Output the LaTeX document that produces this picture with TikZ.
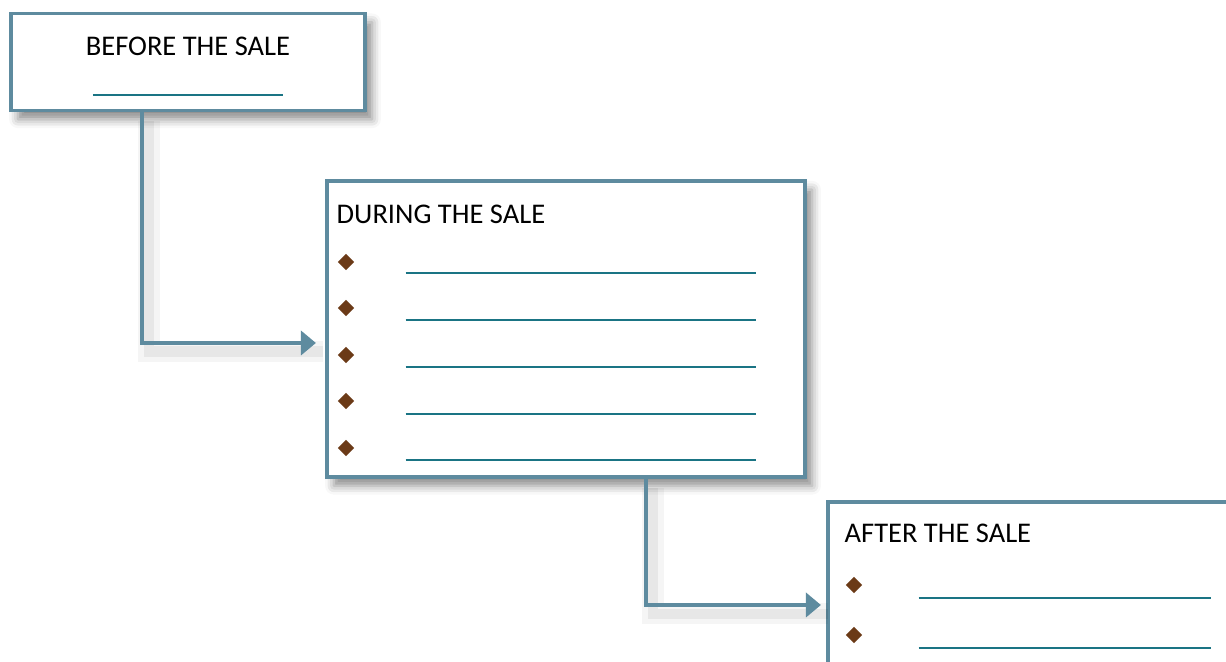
\documentclass[tikz,border=0pt]{standalone}
\usepackage{fontspec}
\setmainfont{Carlito}
\usepackage{xcolor}
\usetikzlibrary{shapes.geometric,arrows.meta,calc,shadows.blur}

\definecolor{frameblue}{HTML}{5E8B9F}
\definecolor{blankteal}{HTML}{1A7484}
\definecolor{bulletbrown}{HTML}{6B3A17}

\begin{document}
\begin{tikzpicture}[
    x=0.01cm, y=-0.01cm,
    stage/.style={rectangle, draw=frameblue, line width=1.1pt, fill=white, blur shadow={shadow xshift=2pt, shadow yshift=-2.5pt, shadow blur radius=2.5pt, shadow opacity=45}},
    heading/.style={anchor=base west, inner sep=0pt, font=\fontsize{8.1}{9}\selectfont},
    bullet/.style={diamond, fill=bulletbrown, inner sep=0pt, minimum size=0.17cm},
    blank/.style={anchor=west, inner sep=0pt, text=blankteal},
    link/.style={draw=frameblue, line width=1.1pt, -{Triangle[length=0.15cm, width=0.24cm]},
        preaction={draw=black, draw opacity=0.04, line width=6pt, -, transform canvas={shift={(2pt,-2.5pt)}}},
        preaction={draw=black, draw opacity=0.06, line width=3pt, -, transform canvas={shift={(2pt,-2.5pt)}}}}
]
    \useasboundingbox (0,0) rectangle (1226,662);
    \clip (0,0) rectangle (1226,662);

    % Before
    \node [stage, minimum width=3.54cm, minimum height=0.97cm] (before) at (188,62) {};
    \node [heading, anchor=base] (beforetitle) at (188,56) {BEFORE THE SALE};
    \node [blank, anchor=center] (beforeblank) at (188,95) {\rule{1.9cm}{0.65pt}};

    % During
    \node [stage, minimum width=4.78cm, minimum height=2.96cm] (during) at (566,329) {};
    \node [heading] (duringtitle) at (336,224) {DURING THE SALE};
    \node [bullet] (d1) at (346,262) {};
    \node [bullet] (d2) at (346,308) {};
    \node [bullet] (d3) at (346,355) {};
    \node [bullet] (d4) at (346,401) {};
    \node [bullet] (d5) at (346,448) {};
    \node [blank] (dl1) at (405,273) {\rule{3.5cm}{0.65pt}};
    \node [blank] (dl2) at (405,320) {\rule{3.5cm}{0.65pt}};
    \node [blank] (dl3) at (405,367) {\rule{3.5cm}{0.65pt}};
    \node [blank] (dl4) at (405,414) {\rule{3.5cm}{0.65pt}};
    \node [blank] (dl5) at (405,460) {\rule{3.5cm}{0.65pt}};

    % After
    \node [stage, minimum width=4.2cm, minimum height=2.2cm] (after) at (1038,612) {};
    \node [heading] (aftertitle) at (844,543) {AFTER THE SALE};
    \node [bullet] (a1) at (854,585) {};
    \node [bullet] (a2) at (854,635) {};
    \node [blank] (al1) at (918,598) {\rule{2.92cm}{0.65pt}};
    \node [blank] (al2) at (918,648) {\rule{2.92cm}{0.65pt}};

    % Flow between stages
    \path [link] ($(before.south west)+(133,0)$) |- ($(during.west)+(-9,14)$);
    \path [link] ($(during.south west)+(321,0)$) |- ($(after.west)+(-5,-7)$);

\end{tikzpicture}
\end{document}
